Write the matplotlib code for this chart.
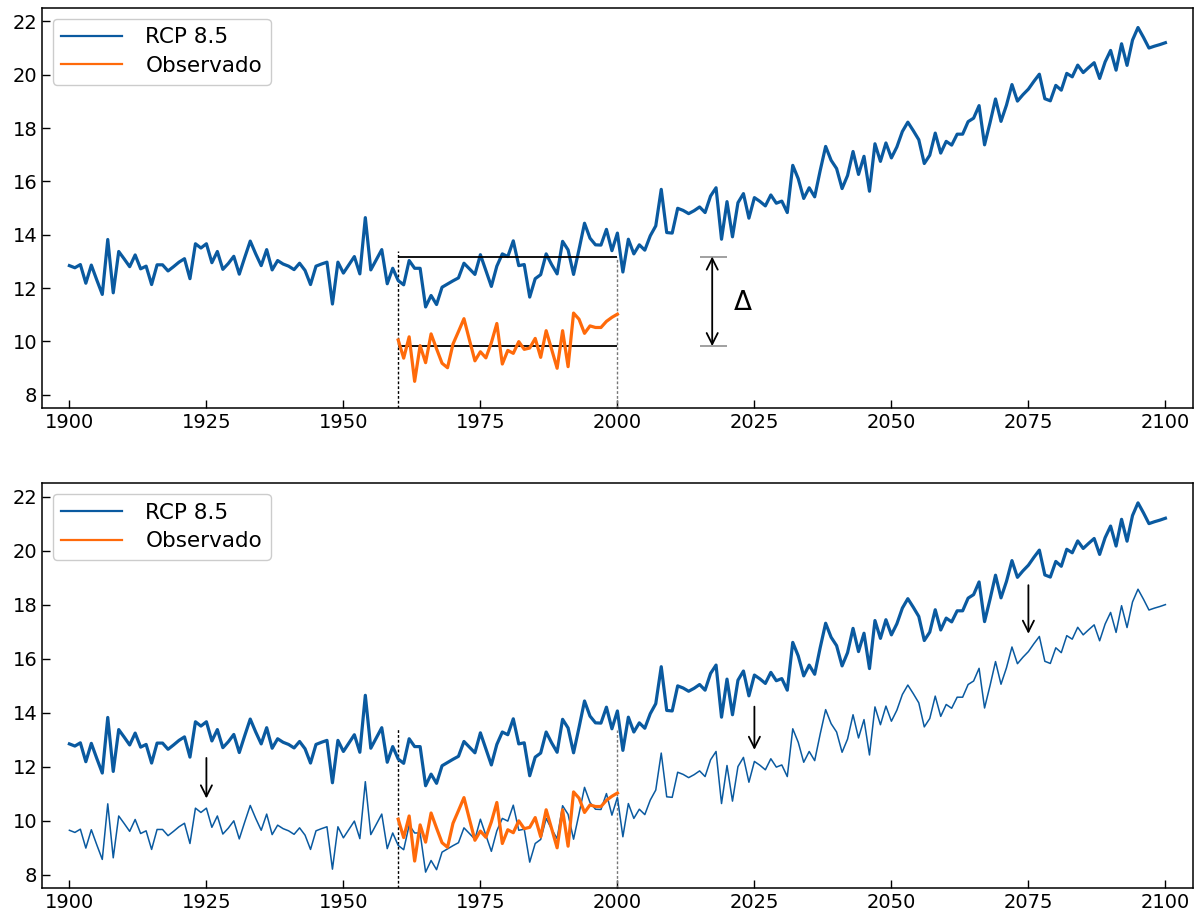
import matplotlib
matplotlib.use("Agg")
import matplotlib.pyplot as plt
from matplotlib.lines import Line2D
import numpy as np

# yearly series, 1900-2100
years = np.arange(1900, 2101)
rcp85 = [
    12.84, 12.76, 12.88, 12.18, 12.86, 12.30, 11.76, 13.82, 11.82, 13.37,
    13.09, 12.80, 13.24, 12.72, 12.82, 12.13, 12.87, 12.87, 12.64, 12.80,
    12.97, 13.10, 12.35, 13.66, 13.50, 13.66, 12.95, 13.37, 12.70, 12.92,
    13.19, 12.52, 13.15, 13.76, 13.28, 12.84, 13.44, 12.68, 13.03, 12.90,
    12.82, 12.69, 12.93, 12.66, 12.13, 12.82, 12.90, 12.97, 11.40, 12.97,
    12.56, 12.87, 13.18, 12.53, 14.64, 12.68, 13.06, 13.44, 12.16, 12.74,
    12.28, 12.12, 13.03, 12.74, 12.74, 11.29, 11.72, 11.38, 12.03, 12.15,
    12.27, 12.38, 12.93, 12.72, 12.51, 13.25, 12.65, 12.06, 12.82, 13.28,
    13.18, 13.77, 12.84, 12.88, 11.66, 12.35, 12.50, 13.28, 12.88, 12.53,
    13.75, 13.43, 12.51, 13.45, 14.43, 13.87, 13.62, 13.61, 14.20, 13.40,
    14.06, 12.60, 13.83, 13.28, 13.62, 13.42, 13.96, 14.33, 15.70, 14.08,
    14.06, 14.99, 14.91, 14.79, 14.90, 15.04, 14.83, 15.45, 15.76, 13.83,
    15.24, 13.92, 15.20, 15.54, 14.62, 15.39, 15.25, 15.08, 15.49, 15.18,
    15.26, 14.83, 16.60, 16.10, 15.36, 15.76, 15.42, 16.40, 17.31, 16.79,
    16.48, 15.73, 16.22, 17.12, 16.26, 16.94, 15.63, 17.41, 16.75, 17.44,
    16.88, 17.29, 17.87, 18.22, 17.90, 17.56, 16.67, 16.98, 17.81, 17.06,
    17.50, 17.36, 17.77, 17.77, 18.24, 18.37, 18.84, 17.37, 18.20, 19.09,
    18.25, 18.86, 19.63, 19.01, 19.25, 19.46, 19.75, 20.02, 19.10, 19.02,
    19.60, 19.42, 20.05, 19.92, 20.36, 20.08, 20.27, 20.45, 19.86, 20.48,
    20.91, 20.17, 21.16, 20.35, 21.30, 21.77, 21.40, 21.00, 21.07, 21.13,
    21.20,
]

obs_years = np.arange(1960, 2001)
observado = [
    10.05, 9.37, 10.17, 8.50, 9.84, 9.20, 10.28, 9.72, 9.18, 9.01,
    9.90, 10.37, 10.85, 10.05, 9.27, 9.61, 9.38, 9.95, 10.67, 9.15,
    9.66, 9.55, 9.99, 9.70, 9.75, 10.11, 9.40, 10.40, 9.70, 8.99,
    10.40, 9.05, 11.06, 10.83, 10.30, 10.58, 10.52, 10.52, 10.75, 10.90,
    11.02,
]

# reference period and the two reference levels
ref_start, ref_end = 1960, 2000
rcp_level = 13.18
obs_level = 9.82
delta = 3.2  # shift applied to the scenario

# arrows in the corrected panel: (year, from, to)
shift_arrows = [(1925, 12.32, 10.82), (2025, 14.22, 12.62), (2075, 18.72, 16.92)]

blue = "#0a5aa0"
orange = "#ff6a0a"

plt.rcParams["font.family"] = "DejaVu Sans"

fig = plt.figure(figsize=(12, 9.14), dpi=100)
ax1 = fig.add_axes([0.035, 0.5536, 0.959, 0.4376])
ax2 = fig.add_axes([0.035, 0.0284, 0.959, 0.443])

rcp = np.array(rcp85)

for ax in (ax1, ax2):
    ax.plot(years, rcp, color=blue, lw=2.3, zorder=3)
    ax.plot(obs_years, observado, color=orange, lw=2.3, zorder=5)
    ax.set_xlim(1895, 2105)
    ax.set_ylim(7.5, 22.5)
    ax.set_xticks(np.arange(1900, 2101, 25))
    ax.set_yticks(np.arange(8, 23, 2))
    ax.tick_params(direction="in", length=6, labelsize=14, width=1)
    for s in ax.spines.values():
        s.set_linewidth(1.1)
    handles = [Line2D([], [], color=blue, lw=1.6),
               Line2D([], [], color=orange, lw=1.6)]
    leg = ax.legend(handles, ["RCP 8.5", "Observado"], loc="upper left",
                    fontsize=15.5, handlelength=2.8, handletextpad=1.1,
                    borderpad=0.4, labelspacing=0.4, framealpha=1)
    leg.get_frame().set_edgecolor("#cccccc")

# top panel: reference levels and the difference between them
ax1.vlines(ref_start, 7.5, 13.4, colors="k", lw=1, linestyles=(0, (2, 1.5)))
ax1.vlines(ref_end, 7.5, rcp_level, colors="#777777", lw=1, linestyles=(0, (2, 1.5)))
ax1.hlines([rcp_level, obs_level], ref_start, ref_end, colors="k", lw=1.3, zorder=4)
ax1.hlines([rcp_level, obs_level], 2015, 2020, colors="#999999", lw=1.3)
ax1.annotate("", xy=(2017.3, obs_level), xytext=(2017.3, rcp_level),
             arrowprops=dict(arrowstyle="<->", lw=1.3, color="k",
                             shrinkA=0, shrinkB=0, mutation_scale=20))
ax1.text(2021.2, 11.45, "Δ", fontsize=19, va="center", ha="left")

# bottom panel: scenario shifted down by delta
ax2.plot(years, rcp - delta, color=blue, lw=1.1, zorder=3)
ax2.vlines(ref_start, 7.5, 13.42, colors="k", lw=1, linestyles=(0, (2, 1.5)))
ax2.vlines(ref_end, 7.5, 13.36, colors="#777777", lw=1, linestyles=(0, (2, 1.5)))
for x, y0, y1 in shift_arrows:
    ax2.annotate("", xy=(x, y1), xytext=(x, y0),
                 arrowprops=dict(arrowstyle="->", lw=1.3, color="k",
                                 shrinkA=0, shrinkB=0, mutation_scale=20))

fig.savefig("out.png", dpi=100)
